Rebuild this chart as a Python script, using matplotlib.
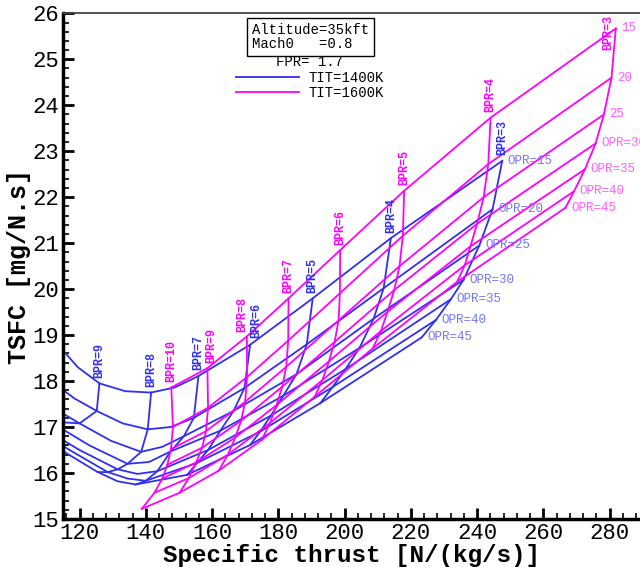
import numpy as np
import matplotlib.pyplot as plt
from matplotlib.lines import Line2D
from matplotlib.ticker import MultipleLocator

plt.rcParams['font.family'] = ['Liberation Mono', 'DejaVu Sans Mono']

opr = [15, 20, 25, 30, 35, 40, 45]

# TIT=1400K, rows = OPR, columns = BPR
bpr_1400 = [10, 9.5, 9, 8.5, 8, 7.5, 7, 6, 5, 4, 3]
st_1400 = [
    [113.0, 119.5, 126.0, 133.8, 141.6, 148.7, 155.9, 171.5, 190.4, 214.0, 247.6],
    [112.0, 118.5, 125.2, 133.0, 140.6, 147.5, 154.5, 169.8, 188.6, 211.8, 244.7],
    [105.0, 112.5, 120.0, 129.5, 138.6, 145.0, 151.5, 166.5, 185.5, 208.8, 240.7],
    [98.0, 104.5, 111.0, 123.0, 134.5, 141.0, 147.5, 162.5, 181.5, 204.5, 235.9],
    [92.0, 98.5, 105.0, 120.0, 131.5, 137.5, 143.5, 158.8, 177.8, 200.3, 232.1],
    [90.0, 97.5, 105.0, 117.0, 128.5, 134.5, 140.0, 155.5, 174.5, 196.4, 227.6],
    [88.0, 96.0, 104.0, 114.0, 125.5, 131.5, 137.0, 152.5, 171.5, 192.7, 223.3],
]
tsfc_1400 = [
    [18.83, 18.30, 17.95, 17.78, 17.75, 17.86, 18.11, 18.79, 19.80, 21.11, 22.79],
    [17.97, 17.62, 17.35, 17.08, 16.95, 17.00, 17.20, 17.85, 18.80, 20.02, 21.74],
    [17.74, 17.40, 17.08, 16.70, 16.46, 16.57, 16.80, 17.35, 18.15, 19.36, 20.95],
    [17.60, 17.35, 17.12, 16.60, 16.20, 16.24, 16.47, 16.92, 17.68, 18.72, 20.20],
    [17.50, 17.33, 17.15, 16.50, 16.08, 15.98, 16.04, 16.50, 17.25, 18.26, 19.78],
    [17.50, 17.28, 17.05, 16.50, 16.02, 15.88, 15.83, 16.22, 16.90, 17.87, 19.33],
    [17.55, 17.30, 17.00, 16.52, 16.02, 15.82, 15.75, 15.96, 16.61, 17.52, 18.95],
]

# TIT=1600K
bpr_1600 = [10, 9, 8, 7, 6, 5, 4, 3]
st_1600 = [
    [147.7, 158.6, 170.5, 183.1, 198.7, 218.0, 244.1, 281.9],
    [148.2, 158.8, 170.6, 183.0, 198.6, 217.6, 243.4, 280.6],
    [147.6, 158.2, 170.0, 182.4, 198.2, 216.6, 242.0, 278.3],
    [146.5, 157.0, 168.8, 181.2, 197.0, 215.0, 240.0, 275.8],
    [145.0, 155.2, 167.0, 179.5, 195.3, 213.0, 238.0, 272.6],
    [142.6, 153.0, 164.8, 177.5, 193.3, 211.0, 236.3, 269.3],
    [138.8, 150.2, 162.0, 175.0, 191.0, 208.5, 234.0, 266.7],
]
tsfc_1600 = [
    [17.86, 18.28, 18.97, 19.80, 20.85, 22.14, 23.73, 25.67],
    [17.00, 17.42, 18.09, 18.88, 19.91, 21.16, 22.72, 24.60],
    [16.52, 16.91, 17.55, 18.31, 19.32, 20.50, 22.00, 23.80],
    [16.18, 16.55, 17.14, 17.88, 18.85, 19.98, 21.42, 23.17],
    [15.88, 16.23, 16.77, 17.48, 18.43, 19.51, 20.93, 22.61],
    [15.57, 15.89, 16.40, 17.09, 18.02, 19.09, 20.52, 22.13],
    [15.22, 15.57, 16.05, 16.72, 17.66, 18.71, 20.16, 21.77],
]

opr_text_1400 = ['OPR=15', 'OPR=20', 'OPR=25', 'OPR=30', 'OPR=35', 'OPR=40', 'OPR=45']
opr_text_1600 = ['15', '20', '25', 'OPR=30', 'OPR=35', 'OPR=40', 'OPR=45']

blue = '#3030ee'
magenta = '#ff00ff'

fig = plt.figure(figsize=(6.4, 5.67), dpi=100)
ax = fig.add_axes([0.0984, 0.0847, 0.9016, 0.8918])


def carpet(st, tsfc, bprs, col, txt_col, opr_text, bpr_shown, off):
    st = np.array(st)
    tsfc = np.array(tsfc)
    for i in range(len(opr)):
        ax.plot(st[i], tsfc[i], color=col, lw=1.3)
        ax.annotate(opr_text[i], (st[i, -1], tsfc[i, -1]), xytext=(4, 0),
                    textcoords='offset points', color=txt_col, fontsize=9,
                    ha='left', va='center')
    for j, b in enumerate(bprs):
        if b not in bpr_shown:
            continue
        ax.plot(st[:, j], tsfc[:, j], color=col, lw=1.3)
        dx, dy, va = off.get(b, (0, 4, 'bottom'))
        ax.annotate('BPR=%d' % b, (st[0, j], tsfc[0, j]), xytext=(dx, dy),
                    textcoords='offset points', color=col, fontsize=8.5,
                    fontweight='bold', rotation=90, ha='center', va=va)


carpet(st_1400, tsfc_1400, bpr_1400, blue, '#7474ff', opr_text_1400,
       [9, 8, 7, 6, 5, 4, 3], {6: (4.5, 5, 'bottom')})
carpet(st_1600, tsfc_1600, bpr_1600, magenta, '#ff5cff', opr_text_1600,
       [10, 9, 8, 7, 6, 5, 4, 3],
       {3: (-5.5, 9.5, 'top'), 8: (-3, 3, 'bottom'), 9: (2.5, 4, 'bottom')})

ax.set_xlim(115, 289.2)
ax.set_ylim(15, 26)
ax.set_xticks(range(120, 281, 20))
ax.set_yticks(range(15, 27))
ax.xaxis.set_minor_locator(MultipleLocator(4))
ax.yaxis.set_minor_locator(MultipleLocator(0.2))
ax.tick_params(which='both', direction='in', top=False, right=False)
ax.tick_params(which='major', length=8, width=2, labelsize=16, pad=3)
ax.tick_params(which='minor', length=4, width=1.2)
for s in ['left', 'bottom']:
    ax.spines[s].set_linewidth(2.5)
ax.spines['top'].set_linewidth(1.3)
ax.spines['top'].set_color('#444444')
ax.spines['right'].set_visible(False)

ax.set_xlabel('Specific thrust [N/(kg/s)]', fontsize=17.5, fontweight='bold', labelpad=0)
ax.set_ylabel('TSFC [mg/N.s]', fontsize=18, fontweight='bold', labelpad=1)

fig.text(251.7 / 640, 1 - 37 / 567, 'Altitude=35kft\nMach0   =0.8', fontsize=10,
         ha='left', va='center', linespacing=0.95,
         bbox=dict(boxstyle='square,pad=0.35', fc='white', ec='black', lw=1))

handles = [Line2D([], [], color=blue, lw=1.3), Line2D([], [], color=magenta, lw=1.3)]
ax.legend(handles, ['TIT=1400K', 'TIT=1600K'], title='FPR= 1.7', frameon=False,
          fontsize=10, title_fontsize=10, loc='upper left',
          bbox_to_anchor=(236 / 640, 1 - 55 / 567), bbox_transform=fig.transFigure,
          borderpad=0, borderaxespad=0, handlelength=4.5, handletextpad=0.7,
          labelspacing=0.12)

fig.savefig('out.png', dpi=100)
